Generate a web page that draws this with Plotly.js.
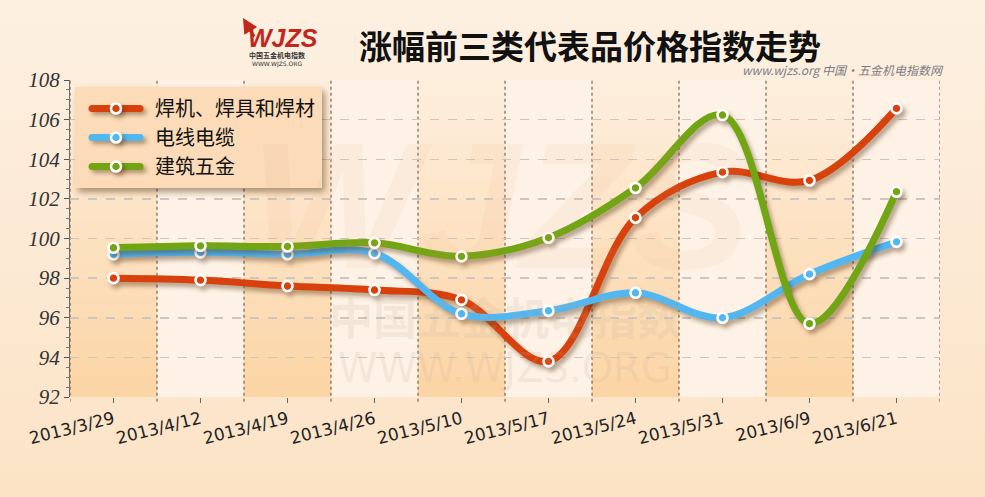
<!DOCTYPE html>
<html>
<head>
<meta charset="utf-8">
<script src="https://cdn.plot.ly/plotly-3.0.1.min.js"></script>
<style>
  html, body { margin: 0; padding: 0; }
  #chart {
    width: 985px; height: 497px;
    background: linear-gradient(to bottom, #fdf0e1 0%, #fce9d3 55%, #fce3c5 100%);
  }
  #chart .scatterlayer .trace { filter: drop-shadow(3px 4px 2px rgba(70,35,5,0.38)); }
  #chart .legend .bg { filter: drop-shadow(3px 4px 3px rgba(70,35,5,0.45)); }
  #chart .legend .legendlines, #chart .legend .legendpoints { filter: drop-shadow(3px 3px 2px rgba(70,35,5,0.4)); }
  #chart .legend .legendlines path { d: path('M15,0h48'); stroke-linecap: round; }
  #chart .legend .legendpoints path { transform: translate(39px, 0px); }
</style>
</head>
<body>
<div id="chart"></div>
<script>
// ---- data ----
const dates = ['2013/3/29','2013/4/12','2013/4/19','2013/4/26','2013/5/10','2013/5/17','2013/5/24','2013/5/31','2013/6/9','2013/6/21'];
const seriesNames = ['焊机、焊具和焊材', '电线电缆', '建筑五金'];
const welding  = [98.0, 97.9, 97.6, 97.4, 96.9, 93.8, 101.05, 103.35, 102.93, 106.57];
const cable    = [99.2, 99.3, 99.2, 99.25, 96.2, 96.35, 97.26, 96.0, 98.2, 99.83];
const hardware = [99.53, 99.63, 99.6, 99.78, 99.1, 100.04, 102.55, 106.23, 95.7, 102.36];
const yTicks = [92, 94, 96, 98, 100, 102, 104, 106, 108];

const colors = ['#d8400c', '#52b6f0', '#72a514'];
const values = [welding, cable, hardware];

const traces = values.map((v, i) => ({
  x: dates,
  y: v,
  name: seriesNames[i],
  type: 'scatter',
  mode: 'lines+markers',
  line: { color: colors[i], width: 7, shape: 'spline', smoothing: 1 },
  marker: { size: 10, color: colors[i], line: { color: '#ffffff', width: 2.6 } },
  hoverinfo: 'x+y'
}));

// band shapes (vertical gradient in the darker bands) and dotted separators
const shapes = [];
const strips = 16;
const bottomRGB = [252, 213, 166];
const topRGB = [253, 238, 220];
dates.forEach((d, i) => {
  if (i % 2 === 0) {
    for (let k = 0; k < strips; k++) {
      const t = k / (strips - 1);
      const c = bottomRGB.map((b, j) => Math.round(b + (topRGB[j] - b) * t));
      shapes.push({
        type: 'rect', xref: 'x', yref: 'paper', layer: 'below',
        x0: i - 0.5, x1: i + 0.5, y0: k / strips, y1: (k + 1) / strips + 0.002,
        fillcolor: 'rgb(' + c.join(',') + ')',
        line: { width: 0 }
      });
    }
  } else {
    shapes.push({
      type: 'rect', xref: 'x', yref: 'paper', layer: 'below',
      x0: i - 0.5, x1: i + 0.5, y0: 0, y1: 1,
      fillcolor: 'rgb(253,242,229)',
      line: { width: 0 }
    });
  }
});
for (let i = 0; i <= dates.length; i++) {
  shapes.push({
    type: 'line', xref: 'x', yref: 'paper', layer: 'below',
    x0: i - 0.5, x1: i - 0.5, y0: -0.015, y1: 1,
    line: { color: '#5a4a3a', width: 1, dash: 'dot' }
  });
}

const px = v => (v - 70) / 870;
const py = v => (397 - v) / 317;

const annotations = [
  // title
  { xref: 'paper', yref: 'paper', x: px(590), y: py(45), xanchor: 'center', yanchor: 'middle',
    text: '涨幅前三类代表品价格指数走势', showarrow: false,
    font: { family: 'Noto Sans CJK SC', size: 33, color: '#111111', weight: 700 } },
  // logo
  { xref: 'paper', yref: 'paper', x: px(283), y: py(38), xanchor: 'center', yanchor: 'middle',
    text: '<b><i>WJZS</i></b>', showarrow: false,
    font: { family: 'Liberation Sans', size: 25, color: '#c0281e' } },
  { xref: 'paper', yref: 'paper', x: px(243), y: py(18),
    ax: 12, ay: 20, text: '', showarrow: true, arrowhead: 2, arrowsize: 1, arrowwidth: 3, arrowcolor: '#c0281e' },
  { xref: 'paper', yref: 'paper', x: px(277), y: py(55), xanchor: 'center', yanchor: 'middle',
    text: '<b>中国五金机电指数</b>', showarrow: false,
    font: { family: 'Noto Sans CJK SC', size: 7, color: '#333333' } },
  { xref: 'paper', yref: 'paper', x: px(277), y: py(63.5), xanchor: 'center', yanchor: 'middle',
    text: 'WWW.WJZS.ORG', showarrow: false,
    font: { family: 'DejaVu Sans', size: 6, color: '#333333' } },
  // top-right site text
  { xref: 'paper', yref: 'paper', x: px(946), y: py(69), xanchor: 'right', yanchor: 'middle',
    text: '<i>www.wjzs.org 中国·五金机电指数网</i>', showarrow: false,
    font: { family: 'Noto Sans CJK SC', size: 12, color: '#7d7c86' } },
  // watermark
  { xref: 'paper', yref: 'paper', x: px(500), y: py(205), xanchor: 'center', yanchor: 'middle',
    text: '<b><i>WJZS</i></b>', showarrow: false,
    font: { family: 'Liberation Sans', size: 180, color: 'rgba(225,160,110,0.07)' } },
  { xref: 'paper', yref: 'paper', x: px(505), y: py(316), xanchor: 'center', yanchor: 'middle',
    text: '<b>中国五金机电指数</b>', showarrow: false,
    font: { family: 'Noto Sans CJK SC', size: 44, color: 'rgba(190,170,150,0.16)' } },
  { xref: 'paper', yref: 'paper', x: px(505), y: py(368), xanchor: 'center', yanchor: 'middle',
    text: 'WWW.WJZS.ORG', showarrow: false,
    font: { family: 'DejaVu Sans', size: 40, color: 'rgba(190,170,150,0.16)' } }
];

const layout = {
  width: 985, height: 497,
  margin: { l: 70, r: 45, t: 80, b: 100 },
  paper_bgcolor: 'rgba(0,0,0,0)',
  plot_bgcolor: 'rgba(0,0,0,0)',
  showlegend: true,
  legend: {
    x: px(75), y: py(87), xanchor: 'left', yanchor: 'top',
    bgcolor: 'rgb(251,219,184)', bordercolor: 'rgb(251,219,184)', borderwidth: 2,
    font: { family: 'Noto Sans CJK SC', size: 20, color: '#111111' },
    itemwidth: 68,
    itemclick: false, itemdoubleclick: false
  },
  xaxis: {
    type: 'category',
    range: [-0.5, dates.length - 0.5],
    showgrid: false, zeroline: false, showline: false,
    ticks: 'outside', ticklen: 5, tickcolor: '#666666', tickwidth: 1,
    tickangle: -14,
    tickfont: { family: 'DejaVu Sans', size: 17, color: '#222222' },
    fixedrange: true
  },
  yaxis: {
    range: [92, 108],
    tickvals: yTicks,
    ticktext: yTicks.map(String),
    showgrid: true, gridcolor: '#cdc6be', gridwidth: 1.5, griddash: 'dash',
    zeroline: false,
    showline: true, linecolor: '#6a6a6a', linewidth: 1,
    ticks: 'outside', ticklen: 5, tickcolor: '#555555',
    minor: { dtick: 0.5, ticks: 'outside', ticklen: 3, tickcolor: '#777777', showgrid: false },
    tickfont: { family: 'Liberation Serif', size: 21, color: '#333333', style: 'italic' },
    fixedrange: true
  },
  shapes: shapes,
  annotations: annotations
};

Plotly.newPlot('chart', traces, layout, { displayModeBar: false, staticPlot: true });
</script>
</body>
</html>
